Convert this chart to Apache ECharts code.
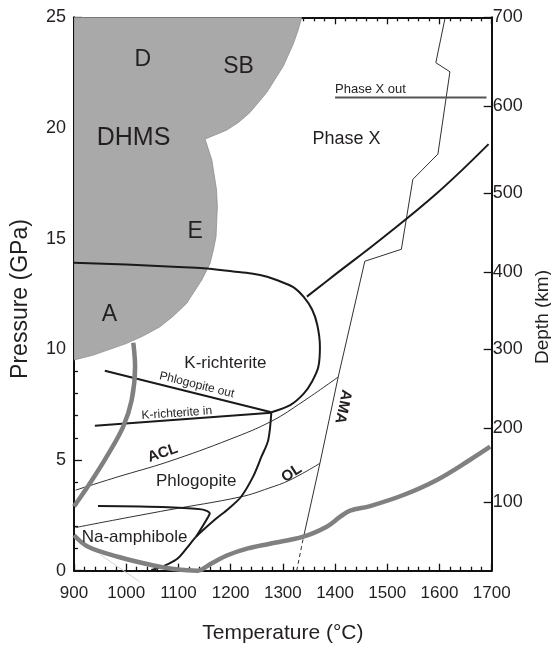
<!DOCTYPE html>
<html>
<head>
<meta charset="utf-8">
<script src="https://cdn.jsdelivr.net/npm/echarts@6/dist/echarts.min.js"></script>
<style>
  html, body { margin: 0; padding: 0; background: #fff; }
  #chart { width: 551px; height: 645px; }
</style>
</head>
<body>
<div id="chart"></div>
<script>
// ---- Phase boundaries in temperature (°C) / pressure (GPa) space ----

// Stability field of the dense hydrous magnesium silicates (shaded)
const dhmsField = [
  [900, 25], [1336, 25], [1329, 24.4], [1320, 23.8], [1301, 22.8], [1269, 21.6],
  [1237, 20.7], [1215, 20.25], [1192, 19.9], [1151, 19.5], [1164, 18.55],
  [1173, 17.2], [1174.5, 16.44], [1172, 15.09], [1167, 14.5], [1160.5, 13.88],
  [1144.6, 13.13], [1115.8, 12.08], [1090, 11.5], [1064.7, 11.02], [1032, 10.6],
  [1001, 10.27], [937, 9.74], [900, 9.52]
];

// K-richterite stability limit (upper branch, ends at the invariant point)
const kRichteriteLimit = [
  [900, 13.91], [1000, 13.83], [1100, 13.72], [1148, 13.66], [1205, 13.52],
  [1240, 13.43], [1270, 13.28], [1300, 13.02], [1322, 12.78], [1340, 12.37],
  [1356, 11.8], [1366, 11.1], [1371, 10.12], [1368, 9.21], [1356, 8.55],
  [1340, 8.0], [1314, 7.48], [1278, 7.16]
];

// Phlogopite stability limit (lower branch from the invariant point)
const phlogopiteLimit = [
  [1278, 7.16], [1272, 5.9], [1259, 5.15], [1243, 4.25], [1220, 3.34],
  [1196, 2.8], [1169, 2.29], [1134, 1.54], [1118, 1.08], [1099, 0.56],
  [1080, 0.3], [1058, 0.1], [1048, 0.03]
];

// Na-amphibole field boundary
const naAmphiboleLimit = [
  [946, 2.92], [1080, 2.87], [1144, 2.77], [1160, 2.59], [1153.5, 2.29], [1134, 1.54]
];

// Reaction lines meeting at the invariant point
const phlogopiteOut = [[959, 9.03], [1278, 7.16]];
const kRichteriteIn = [[940, 6.55], [1278, 7.14]];

// Phase X in
const phaseXIn = [[1346, 12.38], [1403, 13.43], [1486, 14.94], [1595, 17.05], [1694, 19.27]];
// Phase X out
const phaseXOut = [[1400, 21.38], [1690, 21.38]];

// Solidi
const aclSolidus = [
  [903, 3.64], [984, 4.24], [1080, 4.92], [1199, 5.94], [1278, 6.75], [1339, 7.65], [1406, 8.75]
];
const olSolidus = [
  [903, 1.95], [980, 2.3], [1080, 2.74], [1220, 3.34], [1272, 3.72], [1314, 4.1], [1371, 4.85]
];
const amaDashed = [[1326.5, 0], [1339, 1.45]];
const amaSolidus = [
  [1339, 1.45], [1371, 4.85], [1406, 8.75], [1457, 13.98], [1527, 14.52], [1549, 17.68],
  [1597, 18.82], [1620, 22.54], [1593, 22.95], [1611, 25]
];

// Geotherms (thick grey)
const subductionGeotherm = [
  [1013.6, 10.3], [1017, 9.21], [1010.5, 7.71], [994, 6.5], [962.6, 5.15], [930.6, 3.95],
  [904, 3.04], [900, 2.9]
];
const mantleGeotherm = [
  [900, 1.6], [927, 1.08], [984, 0.63], [1048, 0.26], [1099, 0.05], [1137, 0.0],
  [1163, 0.33], [1195, 0.71], [1233, 1.01], [1275, 1.22], [1339, 1.54], [1384, 1.99],
  [1410, 2.44], [1429, 2.71], [1467, 2.92], [1531, 3.42], [1595, 4.1], [1658, 5.0], [1697, 5.6]
];
const faintTrace = [[951, 0.71], [1026, -0.5]];

// Depth scale on the right axis: depth (km) and the pressure (GPa) it sits at
const depthKm = [100, 200, 300, 400, 500, 600, 700];
const depthPressure = [3.1, 6.45, 10.01, 13.47, 17.06, 21.0, 25];

// Field and reaction labels
const labelTexts = ['D', 'SB', 'DHMS', 'E', 'A', 'Phase X', 'Phase X out', 'K-richterite',
  'Phlogopite out', 'K-richterite in', 'ACL', 'Phlogopite', 'OL', 'AMA', 'Na-amphibole'];
const labelAnchors = [[1032, 23.1], [1215, 22.76], [1014, 19.53], [1132, 15.31], [968, 11.58],
  [1422, 19.5], [1400, 21.76], [1190, 9.37], [1135, 8.39], [1097, 7.11], [1070, 5.31],
  [1134, 4.06], [1317, 4.4], [1415, 7.41], [1016, 1.52]];
const labelAngles = [0, 0, 0, 0, 0, 0, 0, 0, -14, 4, 19, 0, 33, -102, 0];
const labelKinds = ['letter', 'letter', 'big', 'letter', 'letter', 'phase', 'small', 'field',
  'tiny', 'tiny', 'bold', 'field', 'bold', 'bold', 'field'];

// ---- styling ----
const FONT = '"Liberation Sans", Arial, sans-serif';
const INK = '#231f20';
const labelStyles = {
  letter: { fontSize: 23, fontFamily: '"Liberation Sans Narrow", "Liberation Sans", Arial, sans-serif', fontWeight: 'normal' },
  big:    { fontSize: 25, fontFamily: FONT, fontWeight: 'normal' },
  phase:  { fontSize: 18, fontFamily: FONT, fontWeight: 'normal' },
  field:  { fontSize: 17, fontFamily: FONT, fontWeight: 'normal' },
  small:  { fontSize: 13, fontFamily: FONT, fontWeight: 'normal', align: 'left' },
  tiny:   { fontSize: 12, fontFamily: FONT, fontWeight: 'normal' },
  bold:   { fontSize: 15, fontFamily: FONT, fontWeight: 'bold' }
};

const blackThick = { color: '#1a1a1a', width: 2 };
const blackThin = { color: '#1a1a1a', width: 0.9 };
const greyThick = { color: '#808080', width: 4.5 };

function lineSeries(data, lineStyle, smooth, extra) {
  return Object.assign({
    type: 'line', data: data, showSymbol: false, symbol: 'none',
    smooth: smooth, lineStyle: lineStyle, silent: true, z: 3,
    animation: false
  }, extra || {});
}

const depthByPressure = new Map(depthPressure.map((p, i) => [p, depthKm[i]]));

const axisLineStyle = { color: '#111', width: 2 };
const tickStyle = { color: '#111', width: 1.3 };

const chart = echarts.init(document.getElementById('chart'), null, { renderer: 'canvas' });

chart.setOption({
  animation: false,
  backgroundColor: '#fff',
  grid: { left: 74, right: 59.3, top: 17.3, bottom: 74.3, outerBoundsMode: 'none' },
  xAxis: [
    {
      type: 'value', min: 900, max: 1700, interval: 100, position: 'bottom',
      axisLine: { onZero: false, lineStyle: axisLineStyle },
      axisTick: { inside: true, length: 7, lineStyle: tickStyle },
      minorTick: { show: true, splitNumber: 5, length: 4, lineStyle: tickStyle },
      splitLine: { show: false },
      axisLabel: { fontSize: 17, color: INK, margin: 14, fontFamily: FONT, formatter: v => String(v) },
      name: 'Temperature (°C)', nameLocation: 'middle', nameGap: 52,
      nameTextStyle: { fontSize: 21, color: INK, fontFamily: FONT }
    },
    {
      type: 'value', min: 900, max: 1700, interval: 100, position: 'top',
      axisLine: { onZero: false, lineStyle: axisLineStyle },
      axisTick: { inside: true, length: 7, lineStyle: tickStyle },
      minorTick: { show: true, splitNumber: 5, length: 4, lineStyle: tickStyle },
      splitLine: { show: false },
      axisLabel: { show: false }
    }
  ],
  yAxis: [
    {
      type: 'value', min: 0, max: 25, interval: 5, position: 'left',
      axisLine: { onZero: false, lineStyle: axisLineStyle },
      axisTick: { inside: true, length: 8, lineStyle: tickStyle },
      minorTick: { show: true, splitNumber: 5, length: 4, lineStyle: tickStyle },
      splitLine: { show: false },
      axisLabel: { fontSize: 18, color: INK, margin: 8, fontFamily: FONT },
      name: 'Pressure (GPa)', nameLocation: 'middle', nameGap: 42, nameRotate: 90,
      nameTextStyle: { fontSize: 23, color: INK, fontFamily: FONT, padding: [0, 10, 0, 0] }
    },
    {
      type: 'value', min: 0, max: 25, position: 'right',
      axisLine: { onZero: false, lineStyle: axisLineStyle },
      axisTick: { inside: true, length: 8, lineStyle: tickStyle, customValues: depthPressure },
      splitLine: { show: false },
      axisLabel: {
        customValues: depthPressure, fontSize: 18, color: INK, margin: 1, fontFamily: FONT,
        formatter: v => String(depthByPressure.get(v))
      },
      name: 'Depth (km)', nameLocation: 'middle', nameGap: 36, nameRotate: 90,
      nameTextStyle: { fontSize: 19, color: INK, fontFamily: FONT, padding: [0, 46, 0, 0] }
    }
  ],
  series: [
    {
      type: 'custom', coordinateSystem: 'cartesian2d', clip: true, silent: true, z: 1,
      data: dhmsField,
      renderItem: function (params, api) {
        if (params.dataIndex !== 0) return null;
        const pts = dhmsField.map(p => api.coord(p));
        return {
          type: 'polygon',
          shape: { points: pts },
          style: { fill: '#a9a9a9', stroke: '#8e8e8e', lineWidth: 0.8 }
        };
      }
    },
    lineSeries(faintTrace, { color: '#d2d2d2', width: 1 }, false, { clip: false, z: 2 }),
    lineSeries(olSolidus, blackThin, 0.4),
    lineSeries(aclSolidus, blackThin, 0.4),
    lineSeries(amaSolidus, blackThin, false),
    lineSeries(amaDashed, { color: '#1a1a1a', width: 0.9, type: [4, 3] }, false),
    lineSeries(phaseXOut, { color: '#555', width: 2 }, false),
    lineSeries(phaseXIn, blackThick, 0.4),
    lineSeries(phlogopiteOut, blackThick, false),
    lineSeries(kRichteriteIn, blackThick, false),
    lineSeries(kRichteriteLimit, blackThick, 0.3),
    lineSeries(phlogopiteLimit, blackThick, 0.3),
    lineSeries(naAmphiboleLimit, blackThick, 0.3),
    lineSeries(subductionGeotherm, greyThick, 0.35, { z: 4 }),
    lineSeries(mantleGeotherm, greyThick, 0.35, { z: 4 }),
    {
      type: 'custom', coordinateSystem: 'cartesian2d', clip: false, silent: true, z: 10,
      data: labelAnchors.map((p, i) => [p[0], p[1], i]),
      renderItem: function (params, api) {
        const i = api.value(2);
        const pt = api.coord([api.value(0), api.value(1)]);
        const st = labelStyles[labelKinds[i]];
        return {
          type: 'text',
          x: pt[0], y: pt[1],
          rotation: labelAngles[i] * Math.PI / 180,
          style: {
            text: labelTexts[i],
            fill: INK,
            fontSize: st.fontSize,
            fontFamily: st.fontFamily,
            fontWeight: st.fontWeight,
            align: st.align || 'center',
            verticalAlign: 'middle'
          }
        };
      }
    }
  ]
});
</script>
</body>
</html>
